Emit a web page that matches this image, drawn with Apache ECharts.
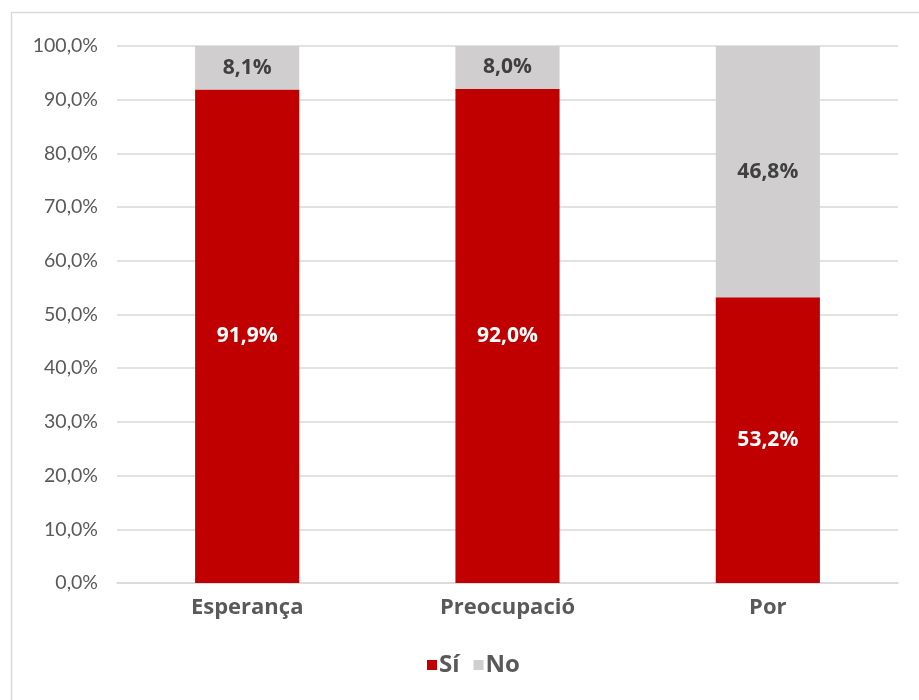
<!DOCTYPE html>
<html>
<head>
<meta charset="UTF-8">
<title>Sí / No</title>
<script type="text/javascript" src="https://cdn.jsdelivr.net/npm/echarts@6/dist/echarts.min.js"></script>
<style>
	html, body { margin: 0; padding: 0; background: #fff; }
	#main { width: 919px; height: 700px; }
</style>
</head>
<body>
<div id="main"></div>
<script type="text/javascript">
	// dades
	var categories = ['Esperança', 'Preocupació', 'Por'];
	var siValues = [91.9, 92.0, 53.2];
	var noValues = [8.1, 8.0, 46.8];

	function pct(v) {
		return v.toFixed(1).replace('.', ',') + '%';
	}

	var font = 'Lato';
	var boldFont = 'Open Sans';
	var myChart = echarts.init(document.getElementById('main'));

	var option = {
		animation: false,
		backgroundColor: '#fff',
		graphic: [{
			type: 'rect',
			shape: { x: 11.5, y: 12.5, width: 930, height: 720 },
			style: { fill: 'none', stroke: '#D9D9D9', lineWidth: 1.5 },
			silent: true
		}],
		grid: { left: 117, right: 21, top: 46, bottom: 117 },
		legend: {
			bottom: 18,
			left: 422,
			itemWidth: 10,
			itemHeight: 10,
			itemGap: 14,
			icon: 'rect',
			data: ['Sí', 'No'],
			textStyle: { color: '#595959', fontFamily: boldFont, fontWeight: 'bold', fontSize: 24, padding: [0, 0, 0, -3] }
		},
		xAxis: {
			type: 'category',
			data: categories,
			axisLine: { lineStyle: { color: '#D9D9D9', width: 1.5 } },
			axisTick: { show: false },
			axisLabel: { color: '#595959', fontFamily: boldFont, fontWeight: 'bold', fontSize: 22, margin: 14 }
		},
		yAxis: {
			type: 'value',
			min: 0,
			max: 100,
			interval: 10,
			axisLine: { show: false },
			axisTick: { show: false },
			splitLine: { lineStyle: { color: '#D9D9D9', width: 1.5 } },
			axisLabel: {
				color: '#595959', fontFamily: font, fontSize: 19.5, margin: 19,
				formatter: function (v) { return pct(v); }
			}
		},
		series: [
			{
				name: 'Sí',
				type: 'bar',
				stack: 'total',
				barWidth: '40%',
				data: siValues,
				itemStyle: { color: '#C00000' },
				label: {
					show: true, position: 'inside', color: '#fff',
					fontFamily: boldFont, fontWeight: 'bold', fontSize: 21,
					formatter: function (p) { return pct(p.value); }
				}
			},
			{
				name: 'No',
				type: 'bar',
				stack: 'total',
				barWidth: '40%',
				data: noValues,
				itemStyle: { color: '#D0CECE' },
				label: {
					show: true, position: 'inside', color: '#404040',
					fontFamily: boldFont, fontWeight: 'bold', fontSize: 21,
					formatter: function (p) { return pct(p.value); }
				}
			}
		]
	};

	myChart.setOption(option);
	window.onresize = myChart.resize;
</script>
</body>
</html>
